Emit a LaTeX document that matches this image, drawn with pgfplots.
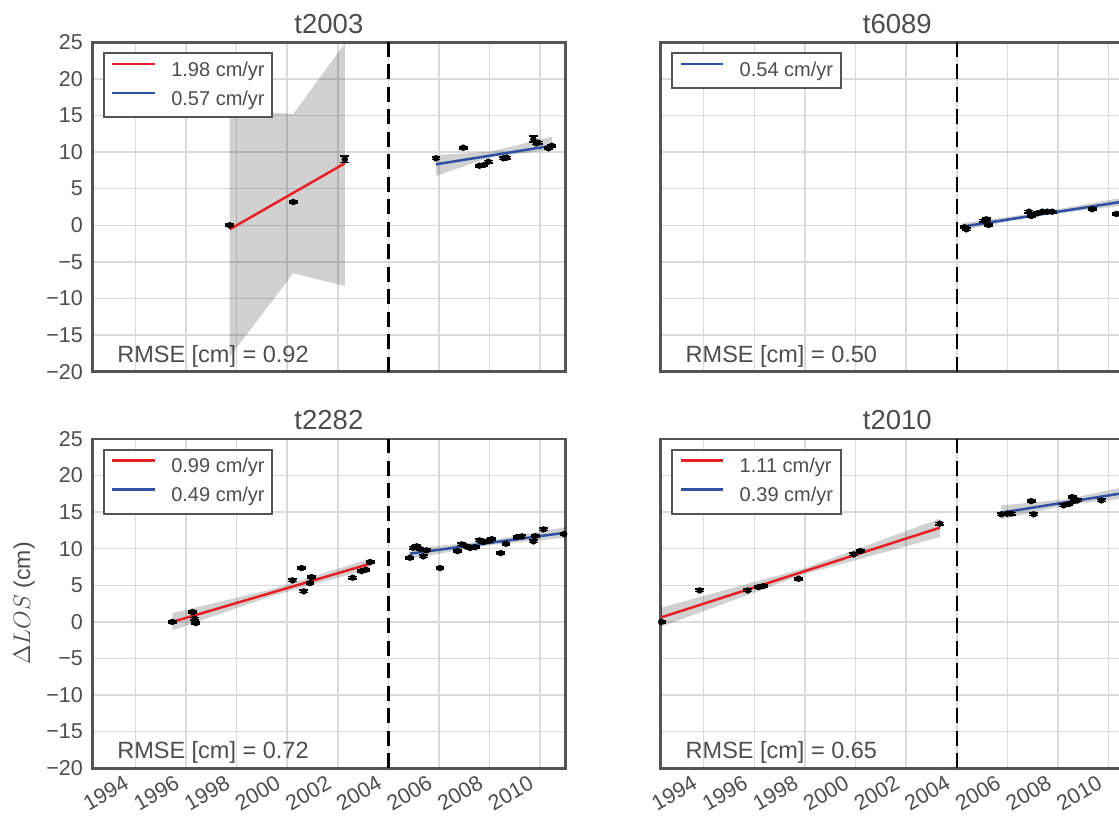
\documentclass[border=0pt]{standalone}
\usepackage{fontspec}
\setmainfont{Liberation Sans}
\usepackage{pgfplots}
\pgfplotsset{compat=1.18}

\definecolor{txt}{RGB}{77,77,77}
\definecolor{spine}{RGB}{85,85,85}
\definecolor{gridc}{RGB}{218,218,218}
\definecolor{fitred}{RGB}{232,32,38}
\definecolor{fitblue}{RGB}{48,80,164}

\tikzset{rmse/.style={anchor=base west, inner sep=0pt, font=\fontsize{11.75}{13}\selectfont, text=txt}}

\pgfplotsset{
  panel/.style={
    scale only axis, width=236.6pt, height=164.7pt,
    xmin=1992.3, xmax=2011.0, ymin=-20, ymax=25,
    xtick={1994,1996,...,2010},
    xticklabels={1994,1996,1998,2000,2002,2004,2006,2008,2010},
    ytick={-20,-15,...,25},
    yticklabels={−20,−15,−10,−5,0,5,10,15,20,25},
    grid=major, major grid style={gridc, line width=0.75pt},
    major tick length=0pt,
    axis line style={spine, line width=1.35pt},
    tick label style={font=\fontsize{10.75}{12}\selectfont, text=txt},
    xticklabel style={xshift=-6.25pt, yshift=-3pt, rotate=30, anchor=north east, inner sep=0pt},
    yticklabel style={anchor=east, inner sep=0pt, xshift=-4.5pt},
    title style={font=\fontsize{13.75}{15}\selectfont, text=txt, at={(0.5,1)}, anchor=base, yshift=-1.5pt},
    legend style={at={(0,1)}, anchor=north west, xshift=5.2pt, yshift=-5pt,
      draw=spine, line width=1pt, fill=white, text=txt,
      font=\fontsize{10}{12}\selectfont,
      inner xsep=3.75pt, inner ysep=1.5pt, row sep=0pt, column sep=7.5pt,
      nodes={inner sep=0pt, text height=10pt, text depth=4.5pt}},
    legend cell align=left,
    legend image code/.code={\draw[##1] (0pt,3.5pt) -- (21.3pt,3.5pt);},
  },
  band/.style={draw=none, fill=black, fill opacity=0.18, forget plot},
  fit/.style={line width=1.25pt},
  obs/.style={only marks, mark=*, mark size=1.4pt, black, forget plot,
    error bars/.cd, y dir=both, y explicit,
    error mark options={rotate=90, black, line width=0.9pt, mark size=2.2pt},
    error bar style={black, line width=0.9pt}},
  vdash/.style={black, line width=1.2pt, dash pattern=on 7.5pt off 3.75pt, forget plot},
}

\begin{document}
\begin{tikzpicture}
\useasboundingbox (0,0) rectangle (559.5pt,407.5pt);

% ---- t2003 ----
\begin{axis}[panel, at={(46.15pt,221.65pt)}, anchor=south west, title={t2003}, xticklabels={}]
  \addplot[band] coordinates {(1997.73,15.75) (2000.24,15.2) (2002.28,24.86) (2002.28,-8.29) (2000.24,-6.56) (1997.73,-17.95)} -- cycle;
  \addplot[band] coordinates {(2005.88,9.6) (2008.02,10.05) (2010.46,12.1) (2010.46,10.3) (2008.02,9.3) (2005.88,6.74)} -- cycle;
  \addplot[vdash] coordinates {(2004,-20) (2004,25)};
  \addplot[fit, fitred] coordinates {(1997.73,-0.55) (2002.28,8.47)};
  \addlegendentry{1.98 cm/yr}
  \addplot[fit, fitblue] coordinates {(2005.88,8.33) (2010.46,10.87)};
  \addlegendentry{0.57 cm/yr}
  \addplot[obs] coordinates {
    (1997.73,0.0) +- (0,0.15)
    (2000.24,3.18) +- (0,0.15)
    (2002.28,9.02) +- (0,0.45)
    (2005.88,9.15) +- (0,0.15)
    (2006.96,10.6) +- (0,0.15)
    (2007.60,8.14) +- (0,0.15)
    (2007.78,8.24) +- (0,0.15)
    (2007.95,8.69) +- (0,0.15)
    (2008.55,9.15) +- (0,0.15)
    (2008.68,9.24) +- (0,0.15)
    (2009.73,11.75) +- (0,0.4)
    (2009.84,11.2) +- (0,0.15)
    (2009.92,11.3) +- (0,0.15)
    (2010.33,10.52) +- (0,0.15)
    (2010.46,10.87) +- (0,0.15)
  };
  \node[rmse] at (rel axis cs:0.052,0.029) {RMSE [cm] = 0.92};
\end{axis}

% ---- t6089 ----
\begin{axis}[panel, at={(330.35pt,221.65pt)}, anchor=south west, title={t6089}, xticklabels={}, yticklabels={}]
  \addplot[band] coordinates {(2004.21,0.3) (2007.3,1.75) (2010.9,4.0) (2010.9,2.85) (2007.3,1.3) (2004.21,-0.65)} -- cycle;
  \addplot[vdash] coordinates {(2004,-20) (2004,25)};
  \addplot[fit, fitblue] coordinates {(2004.21,-0.19) (2010.9,3.42)};
  \addlegendentry{0.54 cm/yr}
  \addplot[obs] coordinates {
    (2004.30,-0.27) +- (0,0.15)
    (2004.38,-0.55) +- (0,0.15)
    (2005.07,0.63) +- (0,0.15)
    (2005.17,0.82) +- (0,0.15)
    (2005.26,0.04) +- (0,0.15)
    (2006.85,1.86) +- (0,0.15)
    (2006.94,1.27) +- (0,0.15)
    (2007.18,1.64) +- (0,0.15)
    (2007.38,1.86) +- (0,0.15)
    (2007.57,1.86) +- (0,0.15)
    (2007.77,1.86) +- (0,0.15)
    (2009.35,2.19) +- (0,0.15)
    (2010.31,1.55) +- (0,0.15)
  };
  \node[rmse] at (rel axis cs:0.052,0.029) {RMSE [cm] = 0.50};
\end{axis}

% ---- t2282 ----
\begin{axis}[panel, at={(46.15pt,23.35pt)}, anchor=south west, title={t2282}]
  \addplot[band] coordinates {(1995.46,1.2) (1999.4,4.45) (2003.28,8.63) (2003.28,7.27) (1999.4,3.55) (1995.46,-1.16)} -- cycle;
  \addplot[band] coordinates {(2004.85,10.0) (2007.9,11.05) (2011.0,12.95) (2011.0,11.5) (2007.9,10.45) (2004.85,8.6)} -- cycle;
  \addplot[vdash] coordinates {(2004,-20) (2004,25)};
  \addplot[fit, fitred] coordinates {(1995.46,0.0) (2003.28,7.95)};
  \addlegendentry{0.99 cm/yr}
  \addplot[fit, fitblue] coordinates {(2004.85,9.32) (2011.0,12.19)};
  \addlegendentry{0.49 cm/yr}
  \addplot[obs] coordinates {
    (1995.46,0.0) +- (0,0.15)
    (1996.26,1.34) +- (0,0.15)
    (1996.35,0.44) +- (0,0.15)
    (1996.39,-0.16) +- (0,0.15)
    (2000.21,5.67) +- (0,0.15)
    (2000.57,7.35) +- (0,0.15)
    (2000.66,4.17) +- (0,0.15)
    (2000.90,5.3) +- (0,0.15)
    (2000.96,6.12) +- (0,0.15)
    (2002.59,6.04) +- (0,0.15)
    (2002.94,6.94) +- (0,0.15)
    (2003.11,7.13) +- (0,0.15)
    (2003.28,8.17) +- (0,0.15)
    (2004.85,8.77) +- (0,0.15)
    (2004.99,10.14) +- (0,0.15)
    (2005.12,10.32) +- (0,0.15)
    (2005.25,10.0) +- (0,0.15)
    (2005.38,8.95) +- (0,0.15)
    (2005.51,9.77) +- (0,0.15)
    (2006.04,7.35) +- (0,0.15)
    (2006.73,9.67) +- (0,0.15)
    (2006.90,10.59) +- (0,0.15)
    (2007.07,10.32) +- (0,0.15)
    (2007.23,10.1) +- (0,0.15)
    (2007.43,10.2) +- (0,0.15)
    (2007.60,11.13) +- (0,0.15)
    (2007.76,10.9) +- (0,0.15)
    (2007.96,11.1) +- (0,0.15)
    (2008.09,11.3) +- (0,0.15)
    (2008.44,9.4) +- (0,0.15)
    (2008.65,10.68) +- (0,0.15)
    (2009.08,11.59) +- (0,0.15)
    (2009.28,11.68) +- (0,0.15)
    (2009.73,11.0) +- (0,0.15)
    (2009.80,11.7) +- (0,0.15)
    (2010.13,12.64) +- (0,0.15)
    (2010.95,12.0) +- (0,0.15)
  };
  \node[rmse] at (rel axis cs:0.052,0.029) {RMSE [cm] = 0.72};
\end{axis}

% ---- t2010 ----
\begin{axis}[panel, at={(330.35pt,23.35pt)}, anchor=south west, title={t2010}, yticklabels={}]
  \addplot[band] coordinates {(1992.32,1.95) (1998.0,7.35) (2003.33,14.1) (2003.33,11.6) (1998.0,6.55) (1992.32,-0.65)} -- cycle;
  \addplot[band] coordinates {(2005.76,15.9) (2008.3,16.75) (2011.0,18.7) (2011.0,17.0) (2008.3,15.95) (2005.76,14.0)} -- cycle;
  \addplot[vdash] coordinates {(2004,-20) (2004,25)};
  \addplot[fit, fitred] coordinates {(1992.32,0.62) (2003.33,12.87)};
  \addlegendentry{1.11 cm/yr}
  \addplot[fit, fitblue] coordinates {(2005.76,14.92) (2011.0,17.83)};
  \addlegendentry{0.39 cm/yr}
  \addplot[obs] coordinates {
    (1992.32,0.0) +- (0,0.15)
    (1993.84,4.3) +- (0,0.15)
    (1995.74,4.3) +- (0,0.15)
    (1996.17,4.75) +- (0,0.15)
    (1996.35,4.89) +- (0,0.15)
    (1997.75,5.9) +- (0,0.15)
    (1999.93,9.22) +- (0,0.15)
    (2000.19,9.67) +- (0,0.15)
    (2003.33,13.42) +- (0,0.15)
    (2005.76,14.69) +- (0,0.15)
    (2005.99,14.78) +- (0,0.15)
    (2006.15,14.8) +- (0,0.15)
    (2006.94,16.5) +- (0,0.15)
    (2007.04,14.69) +- (0,0.15)
    (2008.23,15.92) +- (0,0.15)
    (2008.43,16.1) +- (0,0.15)
    (2008.56,17.05) +- (0,0.15)
    (2008.63,16.5) +- (0,0.15)
    (2008.76,16.6) +- (0,0.15)
    (2009.72,16.6) +- (0,0.15)
  };
  \node[rmse] at (rel axis cs:0.052,0.029) {RMSE [cm] = 0.65};
\end{axis}

\node[rotate=90, text=txt, font=\fontsize{11.5}{13}\selectfont] at (12.1pt,105.8pt) {$\Delta LOS$ (cm)};
\end{tikzpicture}
\end{document}
